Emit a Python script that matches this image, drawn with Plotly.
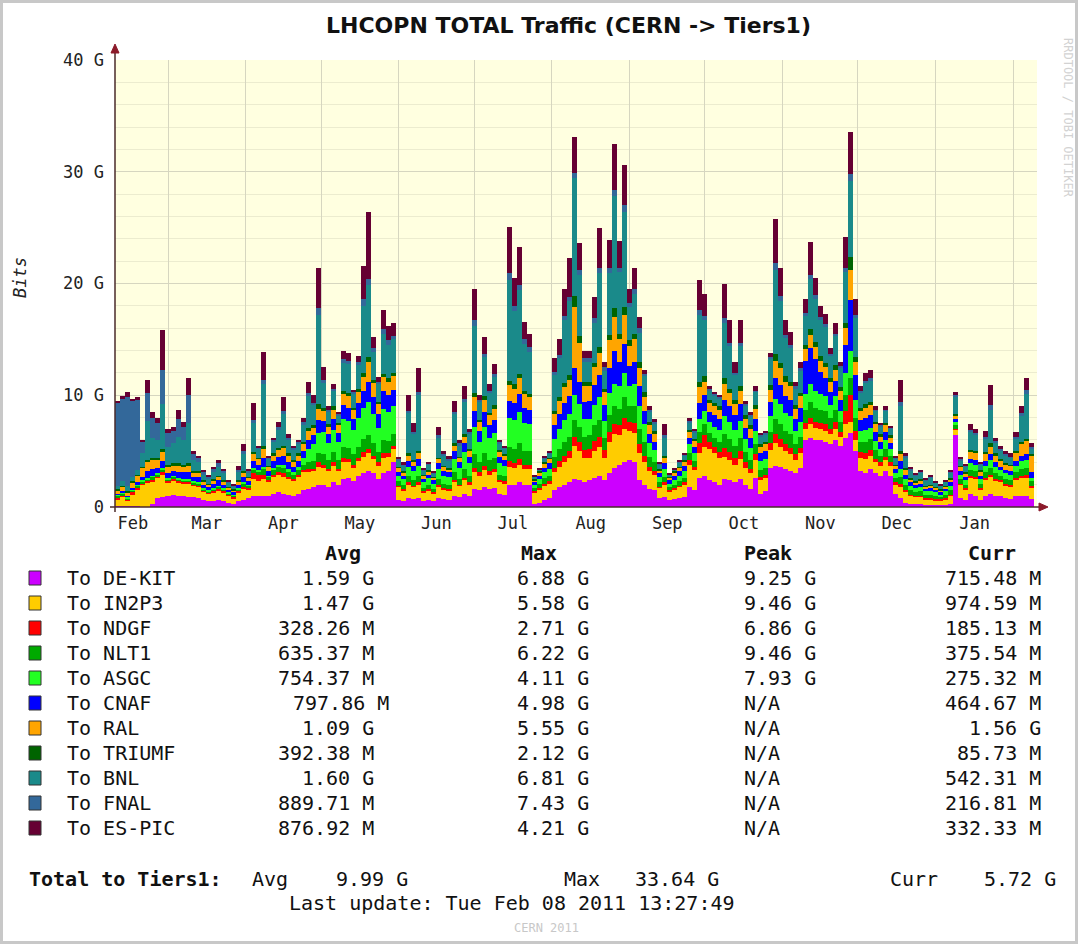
import plotly.graph_objects as go
import pandas as pd

# ---------------- data (G bits/s, 2-day steps starting 2010-02-08) ----------------
START = "2010-02-08"
STEP_DAYS = 2

DE_KIT = [0.1, 0.1, 0.1, 0.1, 0.1,
          0.0, 0.0, 0.3, 0.8, 0.9, 1.0, 1.1, 1.0, 1.0, 0.9,
          0.9, 0.8, 0.6, 0.5, 0.5, 0.6, 0.5, 0.4, 0.3, 0.5, 0.6,
          0.8, 1.0, 1.0, 1.0, 1.0, 1.2, 1.3, 1.2, 1.1, 1.0, 1.2, 1.5, 1.6, 1.8, 2.0,
          2.0, 1.8, 2.2, 2.0, 2.5, 2.6, 2.3, 2.8, 3.0, 3.2, 3.0, 2.5, 3.0, 3.2, 4.0,
          0.6, 0.5, 0.8, 0.7, 0.8, 0.5, 0.6, 0.5, 0.8, 0.7, 0.6, 1.0, 0.9, 1.2, 1.0,
          1.6, 1.5, 1.8, 1.6, 1.7, 1.2, 1.1, 2.0, 2.0, 2.2, 2.0, 2.0, 0.3, 0.4, 0.6, 0.8, 1.5, 1.8, 2.0, 2.2,
          2.5, 2.4, 2.2, 2.4, 2.6, 2.8, 2.4, 3.0, 3.5, 3.8, 4.0, 4.2, 4.0, 2.4, 2.0, 1.6, 1.5,
          0.8, 0.9, 0.6, 0.7, 0.8, 0.9, 1.8, 1.5,
          2.6, 2.8, 2.4, 2.2, 2.0, 2.5, 2.4, 2.2, 2.5, 2.0, 1.6, 2.6, 1.2, 1.4, 3.5, 3.7, 3.6, 3.4, 3.2, 3.0, 3.5,
          6.0, 6.2, 6.0, 6.0, 5.8, 5.6, 6.0, 5.5, 6.2, 6.6, 5.0,
          3.2, 3.0, 3.4, 3.0, 2.8, 3.2, 2.8, 1.2, 0.8,
          0.4, 0.3, 0.3, 0.3, 0.2, 0.2, 0.2, 0.2, 0.2, 0.3,
          6.4, 0.8, 0.6, 1.2, 1.0, 0.6, 1.0, 1.2, 1.0, 1.0, 0.8, 0.7, 1.0, 1.0, 1.0, 0.7]

IN2P3 = [0.6, 0.8, 0.5, 1.0, 1.5,
         2.0, 2.2, 2.0, 1.8, 2.0, 1.2, 1.3, 1.2, 1.1, 1.2,
         1.0, 1.0, 0.8, 0.7, 0.8, 0.9, 0.8, 0.6, 0.5, 0.8, 1.0,
         0.8, 1.5, 1.3, 1.5, 1.2, 1.5, 1.6, 1.5, 1.4, 1.3, 1.5, 1.6, 1.5, 1.4, 1.6,
         1.5, 1.4, 1.5, 1.2, 1.5, 1.4, 1.2, 1.3, 1.5, 1.6, 1.3, 1.2, 1.4, 1.3, 1.2,
         1.2, 1.0, 1.2, 1.1, 1.2, 0.8, 0.9, 0.7, 1.0, 0.9, 0.9, 1.2, 1.0, 1.2, 1.0,
         1.5, 1.3, 1.5, 1.3, 1.4, 1.0, 1.0, 1.6, 1.5, 1.6, 1.4, 1.4, 1.0, 1.2, 1.3, 1.3, 1.6, 1.8, 2.0, 2.2,
         3.0, 2.6, 2.2, 2.0, 2.4, 2.6, 2.0, 2.8, 3.0, 2.6, 3.0, 2.6, 2.6, 2.4, 2.0, 1.6, 1.4,
         0.9, 1.1, 0.8, 0.9, 1.0, 1.1, 2.0, 1.8,
         2.2, 2.6, 2.8, 2.6, 2.4, 2.0, 1.8, 1.6, 1.8, 1.5, 1.4, 1.6, 1.2, 1.2, 1.6, 2.0, 1.8, 1.6, 1.5, 1.2, 1.3,
         1.0, 1.2, 1.1, 1.0, 1.0, 0.9, 1.0, 0.8, 1.2, 1.0, 1.0,
         1.2, 1.3, 1.2, 1.0, 0.9, 1.0, 0.9, 0.8, 1.0,
         0.9, 0.7, 0.6, 0.6, 0.5, 0.5, 0.4, 0.4, 0.5, 0.7,
         0.5, 1.2, 1.0, 1.4, 1.5, 1.0, 1.4, 1.5, 1.3, 1.2, 1.1, 1.1, 1.4, 1.6, 1.6, 1.0]

NDGF = [0.1, 0.1, 0.1, 0.2, 0.1,
        0.1, 0.1, 0.1, 0.1, 0.2, 0.1, 0.1, 0.1, 0.1, 0.1,
        0.1, 0.1, 0.1, 0.1, 0.1, 0.1, 0.1, 0.1, 0.1, 0.1, 0.2,
        0.1, 0.5, 0.6, 0.4, 0.2, 0.2, 0.2, 0.3, 0.2, 0.2, 0.2, 0.2, 0.3, 0.2, 0.4,
        0.3, 0.2, 0.3, 0.2, 0.4, 0.3, 0.3, 0.3, 0.4, 0.4, 0.3, 0.3, 0.4, 0.3, 0.3,
        0.1, 0.1, 0.2, 0.1, 0.2, 0.1, 0.1, 0.1, 0.2, 0.1, 0.1, 0.2, 0.1, 0.2, 0.2,
        0.4, 0.3, 0.4, 0.3, 0.3, 0.2, 0.2, 0.5, 0.4, 0.5, 0.4, 0.4, 0.1, 0.1, 0.2, 0.2, 0.4, 0.5, 0.6, 0.6,
        0.8, 0.8, 0.7, 0.8, 0.9, 0.9, 0.7, 0.9, 0.9, 0.9, 1.0, 0.8, 0.9, 0.8, 0.6, 0.4, 0.3,
        0.1, 0.2, 0.1, 0.1, 0.1, 0.2, 0.4, 0.3,
        0.9, 1.0, 0.6, 0.6, 0.5, 0.8, 0.7, 0.6, 0.7, 0.5, 0.4, 0.5, 0.3, 0.3, 0.6, 0.8, 0.7, 0.6, 0.6, 0.5, 0.5,
        0.5, 0.6, 0.5, 0.5, 0.6, 0.5, 0.6, 0.4, 1.2, 2.4, 0.8,
        0.5, 0.5, 0.5, 0.3, 0.3, 0.3, 0.3, 0.2, 0.3,
        0.2, 0.1, 0.1, 0.1, 0.1, 0.1, 0.1, 0.1, 0.1, 0.1,
        0.1, 0.1, 0.1, 0.2, 0.2, 0.1, 0.2, 0.2, 0.2, 0.2, 0.2, 0.2, 0.2, 0.2, 0.3, 0.2]

NLT1 = [0.2, 0.2, 0.1, 0.2, 0.2,
        0.2, 0.2, 0.3, 0.2, 0.3, 0.2, 0.2, 0.2, 0.2, 0.2,
        0.2, 0.2, 0.1, 0.1, 0.2, 0.2, 0.2, 0.1, 0.1, 0.2, 0.3,
        0.2, 0.4, 0.3, 0.5, 0.3, 0.4, 0.5, 0.5, 0.4, 0.4, 0.4, 0.5, 0.6, 0.7, 0.8,
        0.9, 0.8, 0.9, 0.8, 1.0, 1.0, 0.9, 1.0, 1.2, 1.2, 1.1, 0.9, 1.2, 1.1, 1.0,
        0.4, 0.4, 0.6, 0.5, 0.6, 0.3, 0.4, 0.3, 0.5, 0.4, 0.4, 0.7, 0.5, 0.8, 0.6,
        1.2, 0.9, 1.1, 1.0, 1.0, 0.5, 0.5, 1.3, 1.3, 1.4, 1.2, 1.2, 0.3, 0.4, 0.5, 0.5, 1.0, 1.1, 1.2, 1.3,
        1.5, 1.4, 1.2, 1.2, 1.4, 1.5, 1.1, 1.5, 1.6, 1.5, 1.8, 1.4, 1.5, 1.4, 1.2, 0.9, 0.8,
        0.4, 0.5, 0.3, 0.3, 0.4, 0.4, 0.6, 0.5,
        1.0, 1.0, 0.8, 0.8, 0.9, 1.2, 1.2, 1.1, 1.2, 0.9, 0.8, 0.9, 0.6, 0.6, 1.0, 1.4, 1.3, 1.2, 1.2, 0.9, 1.0,
        1.2, 1.4, 1.3, 1.2, 1.2, 1.0, 1.1, 0.9, 1.4, 1.5, 1.2,
        0.9, 1.0, 1.0, 0.8, 0.6, 0.7, 0.6, 0.4, 0.6,
        0.5, 0.4, 0.3, 0.4, 0.3, 0.3, 0.3, 0.2, 0.3, 0.4,
        0.3, 0.4, 0.3, 0.5, 0.5, 0.4, 0.5, 0.6, 0.5, 0.4, 0.4, 0.4, 0.5, 0.6, 0.6, 0.4]

ASGC = [0.1, 0.1, 0.1, 0.1, 0.1,
        0.1, 0.1, 0.1, 0.1, 0.1, 0.1, 0.1, 0.1, 0.1, 0.1,
        0.1, 0.1, 0.1, 0.1, 0.1, 0.1, 0.1, 0.1, 0.1, 0.1, 0.1,
        0.1, 0.1, 0.1, 0.2, 0.1, 0.2, 0.2, 0.3, 0.3, 0.2, 0.3, 0.6, 1.2, 1.5, 1.8,
        2.0, 1.5, 2.0, 1.6, 2.5, 2.4, 2.2, 2.6, 2.8, 3.0, 2.6, 2.2, 2.8, 2.6, 2.5,
        0.5, 0.5, 0.8, 0.8, 0.9, 0.5, 0.6, 0.5, 0.9, 0.7, 0.7, 1.2, 1.0, 1.5, 1.1,
        2.5, 1.8, 2.4, 2.0, 2.2, 1.0, 0.9, 2.6, 2.6, 2.8, 2.5, 2.4, 0.3, 0.4, 0.5, 0.6, 1.6, 1.8, 2.0, 2.0,
        2.2, 2.0, 1.6, 1.5, 1.8, 2.0, 1.5, 2.0, 2.0, 2.0, 2.2, 1.8, 2.0, 2.0, 1.6, 1.2, 1.1,
        0.5, 0.7, 0.3, 0.4, 0.5, 0.6, 0.8, 0.7,
        1.2, 1.2, 1.0, 1.0, 1.1, 1.6, 1.5, 1.4, 1.5, 1.2, 1.1, 1.2, 0.8, 0.8, 1.4, 1.8, 1.8, 1.6, 1.6, 1.2, 1.3,
        1.4, 1.6, 1.5, 1.4, 1.3, 1.1, 1.2, 1.0, 2.0, 2.5, 1.6,
        1.0, 1.1, 1.0, 0.8, 0.6, 0.8, 0.6, 0.4, 0.7,
        0.5, 0.4, 0.4, 0.4, 0.3, 0.3, 0.3, 0.2, 0.3, 0.4,
        0.3, 0.4, 0.4, 0.6, 0.6, 0.4, 0.6, 0.7, 0.6, 0.5, 0.5, 0.5, 0.6, 0.7, 0.7, 0.3]

CNAF = [0.1, 0.1, 0.1, 0.1, 0.2,
        0.3, 0.6, 0.6, 0.5, 0.6, 0.4, 0.4, 0.5, 0.6, 0.6,
        0.4, 0.5, 0.3, 0.3, 0.4, 0.5, 0.3, 0.2, 0.2, 0.3, 0.5,
        0.3, 0.6, 0.5, 0.8, 0.4, 0.6, 0.7, 0.8, 0.6, 0.5, 0.5, 0.6, 0.8, 0.8, 1.2,
        1.0, 0.8, 1.0, 0.8, 1.2, 1.2, 1.0, 1.3, 1.5, 1.8, 1.5, 1.2, 1.6, 1.5, 1.5,
        0.3, 0.3, 0.5, 0.5, 0.6, 0.3, 0.3, 0.3, 0.5, 0.4, 0.4, 0.7, 0.5, 0.8, 0.6,
        1.4, 1.0, 1.3, 1.1, 1.2, 0.6, 0.5, 1.5, 1.5, 1.6, 1.4, 1.3, 0.2, 0.3, 0.4, 0.5, 1.2, 1.3, 1.5, 1.6,
        2.4, 2.0, 1.5, 1.6, 1.8, 2.0, 1.4, 2.2, 3.0, 2.2, 2.6, 1.8, 2.0, 1.8, 1.2, 0.8, 0.7,
        0.3, 0.5, 0.3, 0.4, 0.4, 0.5, 0.6, 0.6,
        1.4, 1.4, 0.9, 1.0, 1.0, 1.5, 1.4, 1.3, 1.5, 1.0, 0.9, 1.1, 0.7, 0.7, 1.3, 1.8, 1.7, 1.5, 1.5, 1.1, 1.3,
        3.0, 3.2, 2.8, 2.0, 1.6, 1.2, 1.4, 1.0, 2.5, 4.5, 2.2,
        1.0, 1.1, 1.1, 0.8, 0.6, 0.7, 0.5, 0.4, 0.7,
        0.4, 0.3, 0.3, 0.3, 0.2, 0.3, 0.2, 0.2, 0.2, 0.3,
        0.3, 0.3, 0.3, 0.4, 0.4, 0.3, 0.4, 0.5, 0.4, 0.3, 0.3, 0.3, 0.4, 0.5, 0.5, 0.5]

RAL = [0.3, 0.4, 0.3, 0.5, 0.6,
       0.8, 0.8, 0.8, 0.7, 0.8, 0.6, 0.5, 0.6, 0.5, 0.6,
       0.4, 0.4, 0.3, 0.2, 0.3, 0.3, 0.3, 0.2, 0.2, 0.3, 0.4,
       0.3, 0.6, 0.5, 0.8, 0.4, 0.5, 0.6, 0.7, 0.6, 0.5, 0.5, 0.6, 0.8, 0.7, 1.0,
       0.9, 0.7, 0.8, 0.7, 1.0, 1.0, 0.8, 1.0, 1.2, 1.8, 1.3, 0.9, 1.2, 1.2, 1.2,
       0.4, 0.3, 0.5, 0.4, 0.5, 0.3, 0.3, 0.2, 0.4, 0.4, 0.3, 0.5, 0.4, 0.6, 0.5,
       1.2, 0.8, 1.1, 0.9, 1.0, 0.5, 0.4, 1.4, 1.3, 1.4, 1.2, 1.1, 0.2, 0.3, 0.4, 0.4, 1.0, 1.2, 1.4, 1.5,
       5.5, 3.5, 1.4, 1.3, 1.6, 2.0, 1.2, 2.5, 3.0, 2.0, 2.6, 1.8, 2.0, 1.6, 1.2, 0.8, 0.7,
       0.3, 0.5, 0.2, 0.3, 0.3, 0.4, 0.5, 0.5,
       1.4, 1.2, 0.8, 0.8, 0.8, 1.4, 1.2, 1.0, 1.2, 0.8, 0.8, 0.9, 0.6, 0.6, 1.1, 1.6, 1.5, 1.3, 1.2, 0.9, 1.0,
       1.0, 1.2, 1.1, 1.0, 1.0, 0.9, 1.0, 0.8, 1.5, 2.7, 1.2,
       0.8, 0.9, 0.9, 0.7, 0.5, 0.6, 0.5, 0.3, 0.6,
       0.4, 0.3, 0.2, 0.3, 0.2, 0.2, 0.2, 0.2, 0.2, 0.3,
       0.3, 0.4, 0.3, 0.6, 0.6, 0.4, 0.6, 0.7, 0.6, 0.5, 0.5, 0.5, 0.7, 1.0, 1.2, 1.5]

TRIUMF = [0.1, 0.1, 0.1, 0.1, 0.1,
          0.1, 0.2, 0.2, 0.2, 0.3, 0.2, 0.2, 0.2, 0.2, 0.2,
          0.1, 0.1, 0.1, 0.1, 0.1, 0.1, 0.1, 0.1, 0.1, 0.1, 0.1,
          0.1, 0.2, 0.1, 0.3, 0.1, 0.2, 0.2, 0.2, 0.2, 0.1, 0.2, 0.2, 0.3, 0.2, 0.4,
          0.3, 0.2, 0.3, 0.2, 0.3, 0.3, 0.2, 0.3, 0.4, 0.4, 0.3, 0.2, 0.3, 0.3, 0.3,
          0.1, 0.1, 0.2, 0.1, 0.2, 0.1, 0.1, 0.1, 0.1, 0.1, 0.1, 0.2, 0.1, 0.2, 0.2,
          0.4, 0.2, 0.3, 0.2, 0.3, 0.1, 0.1, 0.4, 0.4, 0.4, 0.3, 0.3, 0.1, 0.1, 0.1, 0.1, 0.3, 0.3, 0.4, 0.4,
          1.0, 0.6, 0.4, 0.4, 0.4, 0.5, 0.3, 0.5, 0.8, 0.5, 0.7, 0.5, 0.5, 0.6, 0.5, 0.3, 0.3,
          0.1, 0.2, 0.1, 0.1, 0.1, 0.1, 0.2, 0.2,
          0.5, 0.5, 0.3, 0.3, 0.3, 0.5, 0.4, 0.4, 0.4, 0.3, 0.3, 0.3, 0.2, 0.2, 0.4, 0.6, 0.5, 0.5, 0.4, 0.3, 0.3,
          0.4, 0.5, 0.5, 0.4, 0.4, 0.3, 0.4, 0.3, 0.5, 1.2, 0.4,
          0.3, 0.3, 0.3, 0.2, 0.2, 0.2, 0.2, 0.1, 0.3,
          0.2, 0.1, 0.1, 0.1, 0.1, 0.1, 0.1, 0.1, 0.1, 0.1,
          0.1, 0.1, 0.1, 0.2, 0.2, 0.1, 0.2, 0.3, 0.2, 0.2, 0.1, 0.1, 0.2, 0.2, 0.2, 0.1]

BNL = [0.3, 0.4, 0.5, 0.4, 0.4,
       1.2, 3.5, 1.8, 1.6, 4.0, 1.6, 1.8, 2.4, 2.2, 3.6,
       1.0, 0.8, 0.5, 0.4, 0.6, 0.8, 0.6, 0.4, 0.2, 0.7, 1.5,
       0.4, 2.6, 0.8, 5.5, 0.6, 1.0, 1.6, 2.8, 1.2, 0.9, 0.8, 1.5, 2.8, 1.8, 8.0,
       2.2, 1.1, 1.4, 0.7, 2.5, 2.6, 1.2, 2.1, 6.0, 6.5, 2.5, 1.6, 3.6, 3.0, 3.0,
       0.6, 0.5, 3.6, 2.3, 5.0, 0.4, 0.5, 0.3, 1.8, 0.9, 0.7, 2.6, 1.0, 2.9, 1.3,
       6.0, 1.6, 3.5, 1.8, 2.5, 0.6, 0.5, 9.0, 6.5, 7.5, 4.2, 3.8, 0.2, 0.2, 0.3, 0.4, 3.2, 3.5, 5.6, 6.6,
       10.5, 5.5, 1.8, 1.8, 3.6, 6.6, 1.6, 5.5, 10.0, 5.5, 8.5, 3.0, 3.6, 2.6, 1.4, 0.9, 0.7,
       0.4, 1.6, 0.2, 0.2, 0.4, 0.4, 0.7, 0.6,
       6.0, 5.0, 0.8, 0.7, 0.7, 5.0, 3.8, 2.2, 3.6, 0.9, 0.8, 1.2, 0.7, 0.7, 2.3, 7.5, 5.5, 3.4, 3.0, 1.5, 2.0,
       2.6, 4.5, 3.8, 3.2, 3.2, 2.0, 2.6, 1.7, 4.5, 6.8, 3.5,
       1.3, 1.9, 1.9, 1.0, 0.7, 1.1, 0.6, 0.5, 4.0,
       0.9, 0.7, 0.5, 0.6, 0.5, 0.6, 0.4, 0.3, 0.4, 0.5,
       1.5, 0.5, 0.5, 1.6, 1.4, 0.5, 1.2, 3.0, 0.9, 0.8, 0.7, 0.6, 1.1, 2.3, 4.0, 0.5]

FNAL = [7.4, 7.4, 7.9, 6.8, 6.3,
        1.0, 2.5, 1.8, 1.5, 3.1, 1.2, 1.1, 1.6, 1.2, 2.5,
        0.5, 0.4, 0.3, 0.2, 0.3, 0.3, 0.2, 0.1, 0.1, 0.2, 0.3,
        0.1, 0.3, 0.1, 0.4, 0.1, 0.2, 0.3, 0.3, 0.2, 0.2, 0.2, 0.3, 0.3, 0.2, 0.6,
        0.3, 0.2, 0.2, 0.1, 0.3, 0.3, 0.2, 0.3, 0.6, 0.5, 0.3, 0.2, 0.4, 0.4, 0.3,
        0.1, 0.1, 0.2, 0.2, 0.3, 0.1, 0.1, 0.1, 0.2, 0.1, 0.1, 0.2, 0.2, 0.3, 0.2,
        0.5, 0.2, 0.3, 0.2, 0.3, 0.1, 0.1, 0.6, 0.5, 0.5, 0.4, 0.4, 0.0, 0.0, 0.1, 0.1, 0.3, 0.3, 0.4, 0.4,
        0.5, 0.4, 0.3, 0.3, 0.4, 0.5, 0.3, 0.5, 0.6, 0.4, 0.6, 0.4, 0.4, 0.4, 0.2, 0.2, 0.1,
        0.1, 0.2, 0.0, 0.0, 0.1, 0.1, 0.1, 0.1,
        0.4, 0.4, 0.2, 0.1, 0.1, 0.4, 0.3, 0.2, 0.3, 0.1, 0.1, 0.1, 0.1, 0.1, 0.2, 0.6, 0.5, 0.3, 0.3, 0.2, 0.2,
        0.3, 0.4, 0.4, 0.3, 0.3, 0.2, 0.2, 0.2, 0.4, 0.6, 0.3,
        0.2, 0.2, 0.2, 0.1, 0.1, 0.1, 0.1, 0.1, 0.4,
        0.2, 0.1, 0.1, 0.1, 0.1, 0.1, 0.0, 0.0, 0.0, 0.1,
        0.2, 0.1, 0.1, 0.2, 0.2, 0.1, 0.2, 0.4, 0.2, 0.1, 0.1, 0.1, 0.2, 0.3, 0.4, 0.2]

ES_PIC = [0.2, 0.2, 0.5, 0.2, 0.2,
          0.2, 1.2, 0.5, 0.5, 3.5, 0.4, 0.4, 0.8, 0.4, 1.5,
          0.3, 0.2, 0.1, 0.1, 0.2, 0.3, 0.2, 0.1, 0.1, 0.4, 0.6,
          0.2, 1.5, 0.2, 2.5, 0.1, 0.2, 0.4, 1.2, 0.3, 0.2, 0.2, 0.4, 1.0, 0.7, 3.6,
          1.1, 0.3, 0.4, 0.2, 0.8, 0.7, 0.2, 0.5, 3.0, 6.0, 1.0, 0.4, 1.7, 1.3, 1.2,
          0.2, 0.2, 1.4, 0.8, 2.1, 0.1, 0.1, 0.1, 0.8, 0.3, 0.3, 1.0, 0.3, 1.1, 0.3,
          2.8, 0.4, 1.5, 0.6, 0.9, 0.2, 0.2, 4.2, 2.5, 3.4, 1.6, 1.2, 0.1, 0.1, 0.1, 0.1, 1.2, 1.4, 2.4, 3.5,
          3.2, 2.4, 0.7, 0.7, 1.9, 3.6, 0.5, 2.5, 4.1, 2.4, 3.6, 1.2, 1.9, 1.0, 0.4, 0.3, 0.3,
          0.1, 1.0, 0.1, 0.1, 0.1, 0.1, 0.3, 0.2,
          2.7, 2.0, 0.2, 0.2, 0.2, 3.1, 2.0, 1.0, 2.0, 0.3, 0.3, 0.4, 0.2, 0.2, 0.4, 4.0, 2.5, 1.3, 1.2, 0.4, 0.6,
          1.2, 2.9, 1.5, 1.0, 0.9, 0.5, 1.0, 0.4, 2.8, 3.8, 1.4,
          0.4, 0.7, 0.8, 0.3, 0.2, 0.3, 0.1, 0.1, 2.0,
          0.2, 0.2, 0.1, 0.1, 0.1, 0.1, 0.1, 0.1, 0.1, 0.1,
          0.3, 0.2, 0.1, 0.5, 0.4, 0.1, 0.5, 1.8, 0.3, 0.3, 0.3, 0.3, 0.4, 0.6, 1.0, 0.3]

SERIES_NAMES = ["To DE-KIT", "To IN2P3", "To NDGF", "To NLT1", "To ASGC", "To CNAF",
                "To RAL", "To TRIUMF", "To BNL", "To FNAL", "To ES-PIC"]
SERIES_COLORS = ["#CC00FF", "#FFCC00", "#FF0000", "#00AA00", "#22FF22", "#0000FF",
                 "#FFA500", "#006400", "#1A8A8A", "#33689A", "#660033"]
AVG_TEXT = ["1.59 G", "1.47 G", "328.26 M", "635.37 M", "754.37 M", "797.86 M",
            "1.09 G", "392.38 M", "1.60 G", "889.71 M", "876.92 M"]
MAX_TEXT = ["6.88 G", "5.58 G", "2.71 G", "6.22 G", "4.11 G", "4.98 G",
            "5.55 G", "2.12 G", "6.81 G", "7.43 G", "4.21 G"]
PEAK_TEXT = ["9.25 G", "9.46 G", "6.86 G", "9.46 G", "7.93 G", "N/A",
             "N/A", "N/A", "N/A", "N/A", "N/A"]
CURR_TEXT = ["715.48 M", "974.59 M", "185.13 M", "375.54 M", "275.32 M", "464.67 M",
             "1.56 G", "85.73 M", "542.31 M", "216.81 M", "332.33 M"]
Y_TICKS = [0, 10, 20, 30, 40]
Y_TICK_TEXT = ["0", "10 G", "20 G", "30 G", "40 G"]
TOTAL_AVG, TOTAL_MAX, TOTAL_CURR = "9.99 G", "33.64 G", "5.72 G"
LAST_UPDATE = "Last update: Tue Feb 08 2011 13:27:49"
TITLE = "LHCOPN TOTAL Traffic (CERN -> Tiers1)"

SERIES = [DE_KIT, IN2P3, NDGF, NLT1, ASGC, CNAF, RAL, TRIUMF, BNL, FNAL, ES_PIC]

# ---------------- figure ----------------
W, H = 1078, 945
PL, PR, PT, PB = 115, 1037, 60, 507   # plot area in pixels
MONO = "DejaVu Sans Mono"


def px(x):
    return (x - PL) / (PR - PL)


def py(y):
    return (PB - y) / (PB - PT)


n = len(DE_KIT)
dates = pd.date_range(START, periods=n, freq=f"{STEP_DAYS}D")
bar_w = STEP_DAYS * 24 * 3600 * 1000

fig = go.Figure()
for name, vals, col in zip(SERIES_NAMES, SERIES, SERIES_COLORS):
    fig.add_trace(go.Bar(x=dates, y=vals, name=name, width=bar_w, offset=0,
                         marker=dict(color=col, line=dict(width=0)),
                         showlegend=False))

fig.update_layout(
    width=W, height=H, autosize=False,
    margin=dict(l=PL, r=W - PR, t=PT, b=H - PB),
    paper_bgcolor="white", plot_bgcolor="#FFFFE0",
    barmode="stack", bargap=0,
    font=dict(family=MONO, size=17, color="#222222"),
)
fig.update_xaxes(
    range=["2010-02-07 21:00", "2011-02-10 09:00"],
    dtick="M1", tick0="2010-02-01", tickformat="%b", ticklabelmode="period",
    showgrid=True, gridcolor="#D6D6C0", gridwidth=1,
    showline=False, zeroline=False, ticks="",
    tickfont=dict(family=MONO, size=17, color="#222222"),
    ticklabelstandoff=4,
)
fig.update_yaxes(
    range=[0, 40], tickvals=Y_TICKS, ticktext=Y_TICK_TEXT,
    showgrid=True, gridcolor="#D6D6C0", gridwidth=1,
    minor=dict(dtick=2, showgrid=True, gridcolor="#ECECCF", gridwidth=1),
    showline=False, zeroline=False, ticks="",
    tickfont=dict(family=MONO, size=17, color="#222222"),
    ticklabelstandoff=10,
)

shapes = []
AXC = "#4A2A2A"
ARC = "#8B1A2A"
# x axis line + arrow
shapes.append(dict(type="line", xref="paper", yref="paper",
                   x0=px(110), x1=px(1042), y0=py(PB), y1=py(PB),
                   line=dict(color=AXC, width=1.5)))
shapes.append(dict(type="path", xref="paper", yref="paper",
                   path=f"M {px(1039)} {py(PB - 4)} L {px(1048)} {py(PB)} L {px(1039)} {py(PB + 4)} Z",
                   fillcolor=ARC, line=dict(color=ARC, width=1)))
# y axis line + arrow
shapes.append(dict(type="line", xref="paper", yref="paper",
                   x0=px(PL), x1=px(PL), y0=py(512), y1=py(50),
                   line=dict(color=AXC, width=1.5)))
shapes.append(dict(type="path", xref="paper", yref="paper",
                   path=f"M {px(PL - 4)} {py(53)} L {px(PL)} {py(44)} L {px(PL + 4)} {py(53)} Z",
                   fillcolor=ARC, line=dict(color=ARC, width=1)))
# outer frame
shapes.append(dict(type="rect", xref="paper", yref="paper",
                   x0=px(1.5), x1=px(1076.5), y0=py(1.5), y1=py(942.5),
                   line=dict(color="#C8C8C8", width=3), fillcolor="rgba(0,0,0,0)"))

annotations = []


def txt(x, y, s, anchor="left", size=20, bold=False, color="#111111", family=MONO, **kw):
    t = f"<b>{s}</b>" if bold else s
    annotations.append(dict(x=px(x), y=py(y), xref="paper", yref="paper", text=t,
                            showarrow=False, xanchor=anchor, yanchor="middle",
                            font=dict(family=family, size=size, color=color), **kw))


# title
txt(568, 26, TITLE, anchor="center", size=22, bold=True, family="DejaVu Sans")
# y axis title
annotations.append(dict(x=px(20), y=py(278), xref="paper", yref="paper", text="Bits",
                        showarrow=False, textangle=-90, xanchor="center", yanchor="middle",
                        font=dict(family=MONO, size=17, color="#222222", style="italic")))
# watermark
annotations.append(dict(x=px(1068), y=py(118), xref="paper", yref="paper",
                        text="RRDTOOL / TOBI OETIKER", showarrow=False, textangle=90,
                        xanchor="center", yanchor="middle",
                        font=dict(family=MONO, size=12, color="#D2D2D2")))

# legend header
txt(343, 553, "Avg", anchor="center", bold=True)
txt(539, 553, "Max", anchor="center", bold=True)
txt(768, 553, "Peak", anchor="center", bold=True)
txt(992, 553, "Curr", anchor="center", bold=True)

for k, name in enumerate(SERIES_NAMES):
    yc = 578 + 25 * k
    shapes.append(dict(type="rect", xref="paper", yref="paper",
                       x0=px(29), x1=px(41), y0=py(yc - 7), y1=py(yc + 7),
                       fillcolor=SERIES_COLORS[k], line=dict(color="#333333", width=1)))
    txt(65, yc, name)
    avg_right = 391 if name == "To CNAF" else 376
    txt(avg_right, yc, AVG_TEXT[k], anchor="right")
    txt(591, yc, MAX_TEXT[k], anchor="right")
    txt(742, yc, PEAK_TEXT[k], anchor="left")
    txt(1043, yc, CURR_TEXT[k], anchor="right")

# totals
txt(27, 879, "Total to Tiers1:", bold=True)
txt(250, 879, "Avg")
txt(410, 879, TOTAL_AVG, anchor="right")
txt(562, 879, "Max")
txt(721, 879, TOTAL_MAX, anchor="right")
txt(888, 879, "Curr")
txt(1058, 879, TOTAL_CURR, anchor="right")
txt(512, 903, LAST_UPDATE, anchor="center")
txt(546, 928, "CERN 2011", anchor="center", size=12, color="#C8C8C8")

fig.update_layout(shapes=shapes, annotations=annotations)
fig.write_html("out.html", config={"displayModeBar": False},
               post_script="document.body.style.margin='0';document.body.style.overflow='hidden';")
